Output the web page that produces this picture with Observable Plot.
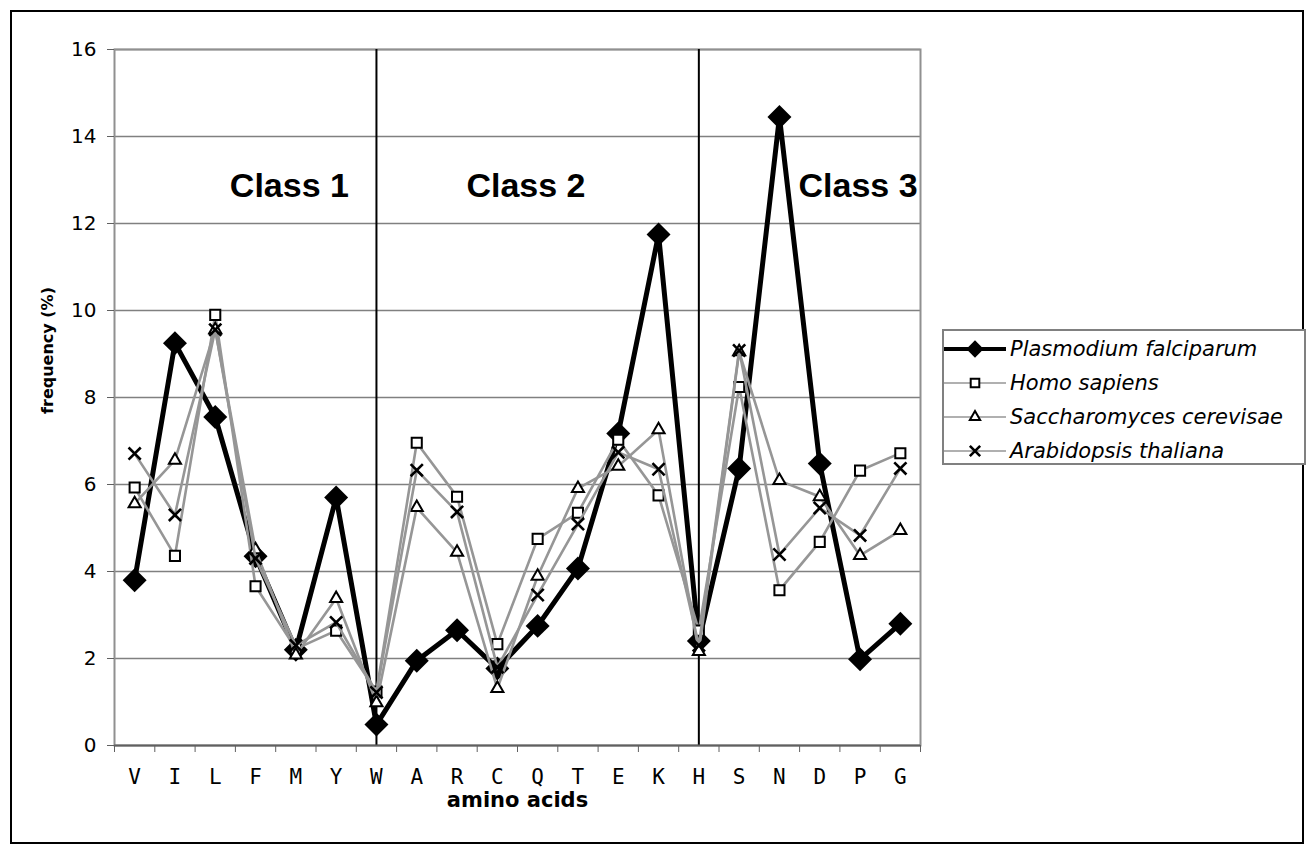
<!DOCTYPE html>
<html>
<head>
<meta charset="utf-8">
<script src="https://cdn.jsdelivr.net/npm/d3@7"></script>
<script src="https://cdn.jsdelivr.net/npm/@observablehq/plot@0.6"></script>
<style>
  html, body { margin: 0; padding: 0; background: #fff; }
  #wrap { position: relative; width: 1309px; height: 851px; overflow: hidden; }
  #frame { position: absolute; left: 10px; top: 10px; width: 1294px; height: 834px; box-sizing: border-box; border: 2px solid #000; pointer-events: none; }
  #chart { position: absolute; left: 0; top: 0; }
  #legend { position: absolute; left: 942px; top: 329px; width: 364px; height: 136px; box-sizing: border-box; border: 2px solid #808080; background: #fff; }
  .row { position: absolute; left: 0; height: 34px; display: flex; align-items: center; }
  .row svg { display: block; }
  .row span { font-family: "DejaVu Sans", Verdana, sans-serif; font-style: italic; font-size: 21px; color: #000; margin-left: 2px; white-space: nowrap; }
</style>
</head>
<body>
<div id="wrap">
  <div id="chart"></div>
  <div id="frame"></div>
  <div id="legend"></div>
</div>
<script>
// ---- data ----
const aminoAcids = ["V","I","L","F","M","Y","W","A","R","C","Q","T","E","K","H","S","N","D","P","G"];
const plasmodium  = [3.80, 9.25, 7.55, 4.35, 2.20, 5.70, 0.48, 1.95, 2.65, 1.77, 2.75, 4.07, 7.17, 11.75, 2.40, 6.37, 14.45, 6.48, 1.98, 2.80];
const homoSapiens = [5.93, 4.36, 9.90, 3.66, 2.22, 2.64, 1.24, 6.96, 5.72, 2.33, 4.75, 5.35, 7.03, 5.75, 2.64, 8.24, 3.57, 4.68, 6.32, 6.72];
const saccharomyces = [5.56, 6.56, 9.56, 4.50, 2.08, 3.38, 0.98, 5.47, 4.44, 1.31, 3.89, 5.91, 6.42, 7.26, 2.16, 9.05, 6.09, 5.72, 4.37, 4.94];
const arabidopsis = [6.71, 5.30, 9.56, 4.30, 2.30, 2.83, 1.22, 6.33, 5.37, 1.80, 3.46, 5.09, 6.74, 6.35, 2.30, 9.08, 4.39, 5.46, 4.83, 6.37];
const seriesNames = ["Plasmodium falciparum", "Homo sapiens", "Saccharomyces cerevisae", "Arabidopsis thaliana"];
const yTicks = [0, 2, 4, 6, 8, 10, 12, 14, 16];
const classBoundaries = ["W", "H"];
const classLabels = ["Class 1", "Class 2", "Class 3"];

// ---- styles per series ----
const seriesValues = [plasmodium, homoSapiens, saccharomyces, arabidopsis];
const styles = [
  {stroke: "#000", strokeWidth: 5, symbol: "diamond2", r: 10.8, fill: "#000", mStroke: "none", mWidth: 0},
  {stroke: "#969696", strokeWidth: 2.6, symbol: "square", r: 5.7, fill: "#fff", mStroke: "#000", mWidth: 2},
  {stroke: "#969696", strokeWidth: 2.6, symbol: "triangle", r: 4.5, fill: "#fff", mStroke: "#000", mWidth: 2},
  {stroke: "#969696", strokeWidth: 2.6, symbol: "times", r: 5.6, fill: "none", mStroke: "#000", mWidth: 2.6}
];

const rowsFor = (s) => aminoAcids.map((a, i) => ({aa: a, idx: i, value: seriesValues[s][i], series: seriesNames[s]}));

const seriesMarks = [];
seriesNames.forEach((name, s) => {
  const st = styles[s];
  const rows = rowsFor(s);
  seriesMarks.push(Plot.line(rows, {x: "idx", y: "value", stroke: st.stroke, strokeWidth: st.strokeWidth, strokeLinejoin: "miter", strokeMiterlimit: 3}));
  seriesMarks.push(Plot.dot(rows, {x: "idx", y: "value", symbol: () => st.symbol, r: st.r, fill: st.fill, stroke: st.mStroke, strokeWidth: st.mWidth}));
});

const classX = [3.84, 9.71, 17.95];

const chart = Plot.plot({
  width: 1309,
  height: 851,
  marginLeft: 114,
  marginRight: 389,
  marginTop: 49,
  marginBottom: 106,
  style: {fontFamily: "DejaVu Sans, Verdana, sans-serif", fontSize: "20px", background: "transparent", overflow: "visible"},
  x: {type: "linear", domain: [-0.5, aminoAcids.length - 0.5]},
  y: {domain: [0, 16]},
  symbol: {type: "identity"},
  marks: [
    Plot.ruleY(yTicks.filter(v => v > 0), {stroke: "#808080", strokeWidth: 1.5}),
    Plot.frame({stroke: "#909090", strokeWidth: 2}),
    Plot.ruleX(classBoundaries.map(a => aminoAcids.indexOf(a)), {stroke: "#000", strokeWidth: 2}),
    Plot.ruleY([0], {stroke: "#606060", strokeWidth: 2}),
    Plot.axisY({ticks: yTicks, tickSize: 7, tickPadding: 11, label: null, stroke: "#606060", fontSize: 20}),
    Plot.axisX({ticks: d3.range(aminoAcids.length + 1).map(i => i - 0.5), tickSize: 7, tickFormat: () => "", label: null, stroke: "#606060"}),
    Plot.axisX({ticks: d3.range(aminoAcids.length), tickSize: 0, tickPadding: 24, tickFormat: i => aminoAcids[i], label: null, fontFamily: "DejaVu Sans Mono, monospace", fontSize: 21}),
    Plot.text(["amino acids"], {frameAnchor: "bottom", dy: 61, fontWeight: "bold", fontSize: 21, fill: "#000"}),
    Plot.text(["frequency (%)"], {frameAnchor: "left", textAnchor: "middle", rotate: -90, dx: -67, dy: -47, fontWeight: "bold", fontSize: 16, fill: "#000"}),
    Plot.text(classLabels, {x: (d, i) => classX[i], y: 12.6, lineAnchor: "bottom", textAnchor: "middle", fontFamily: "Liberation Sans, Arial, sans-serif", fontWeight: "bold", fontSize: 34, fill: "#000"}),
    ...seriesMarks
  ]
});
document.getElementById("chart").appendChild(chart);

// ---- legend ----
const legend = document.getElementById("legend");
const rowTops = [1, 35, 69, 103];
seriesNames.forEach((name, s) => {
  const st = styles[s];
  const row = document.createElement("div");
  row.className = "row";
  row.style.top = rowTops[s] + "px";
  const svg = d3.create("svg").attr("width", 64).attr("height", 34);
  svg.append("line").attr("x1", 0).attr("x2", 62).attr("y1", 17).attr("y2", 17)
    .attr("stroke", st.stroke).attr("stroke-width", s === 0 ? 4 : 1.5);
  const symMap = {diamond2: d3.symbolDiamond2, square: d3.symbolSquare, triangle: d3.symbolTriangle, times: d3.symbolTimes};
  const scale = s === 0 ? 0.72 : 0.85;
  svg.append("path")
    .attr("d", d3.symbol(symMap[st.symbol], Math.PI * (st.r * scale) ** 2)())
    .attr("transform", "translate(31,17)")
    .attr("fill", st.fill).attr("stroke", st.mStroke === "none" ? null : st.mStroke)
    .attr("stroke-width", st.mWidth);
  row.appendChild(svg.node());
  const span = document.createElement("span");
  span.textContent = name;
  row.appendChild(span);
  legend.appendChild(row);
});
</script>
</body>
</html>
